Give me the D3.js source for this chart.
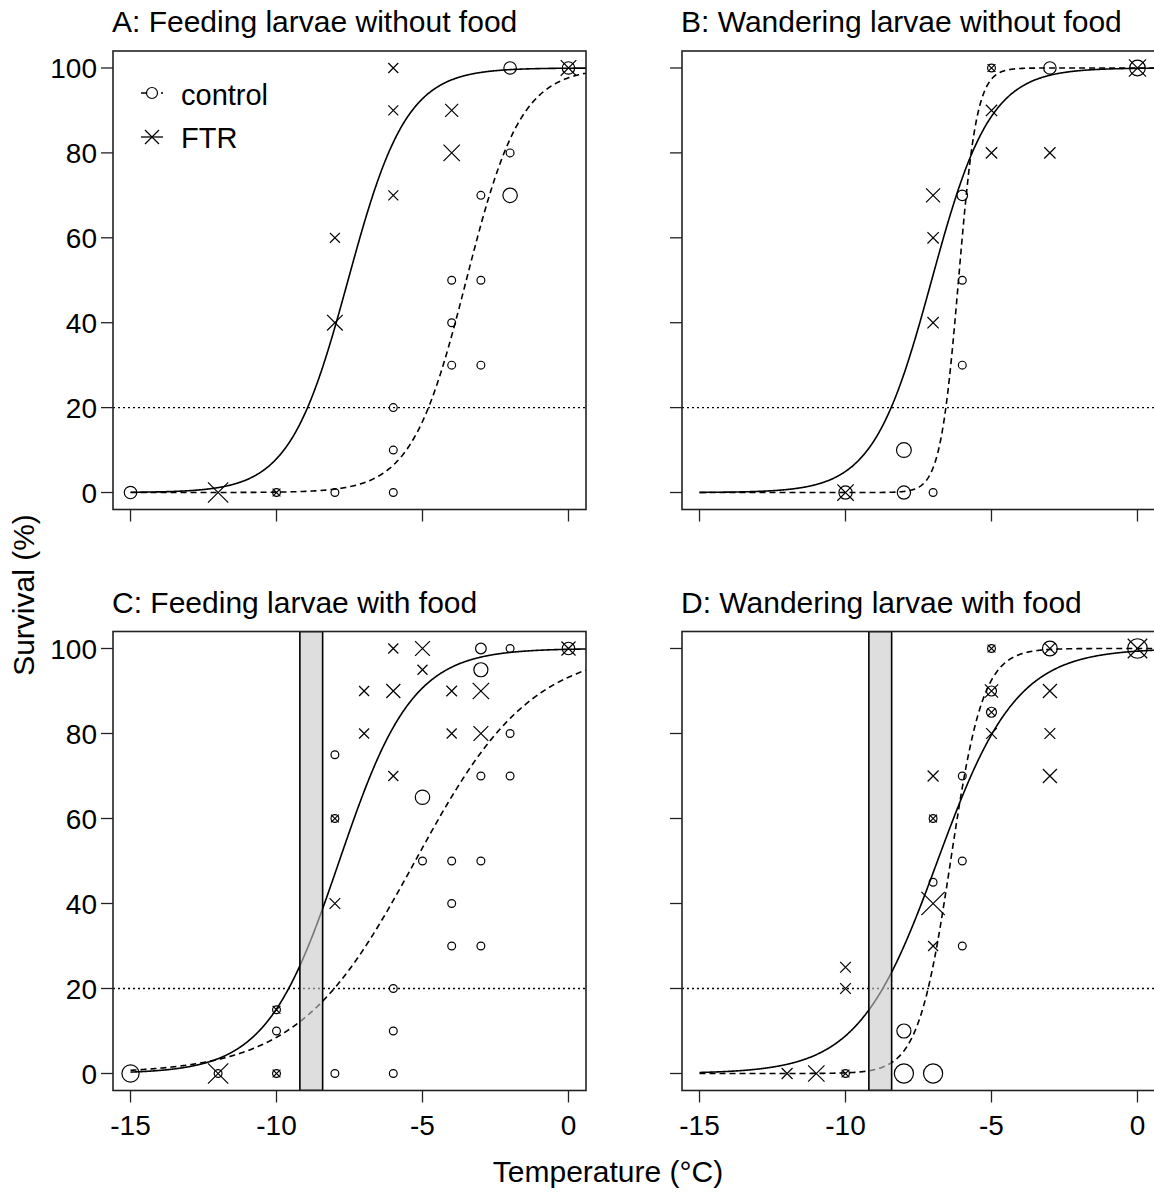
<!DOCTYPE html>
<html>
<head>
<meta charset="utf-8">
<script src="https://cdn.jsdelivr.net/npm/d3@7/dist/d3.min.js"></script>
<style>
body { margin: 0; background: white; }
text { font-family: "Liberation Sans", Arial, sans-serif; fill: black; }
</style>
</head>
<body>
<div id="chart"></div>
<script>
// Panel titles
var titles = ["A: Feeding larvae without food", "B: Wandering larvae without food",
              "C: Feeding larvae with food", "D: Wandering larvae with food"];

var xTicks = [-15, -10, -5, 0];
var yTicks = [0, 20, 40, 60, 80, 100];

// Observed survival: [temperature, survival %, symbol size]
var controlA = [[-15,0,1.6],[-10,0,1],[-8,0,1],[-6,0,1],[-6,10,1],[-6,20,1],[-4,30,1],[-3,30,1],
                [-4,40,1],[-4,50,1],[-3,50,1],[-3,70,1],[-2,70,1.85],[-2,80,1],[-2,100,1.6],[0,100,1.6]];
var ftrA = [[-12,0,2.6],[-10,0,1],[-8,40,2],[-8,60,1.28],[-6,70,1.28],[-6,90,1.28],[-6,100,1.28],
            [-4,90,1.67],[-4,80,2.1],[0,100,2]];

var controlB = [[-10,0,1.7],[-8,0,1.7],[-8,10,1.9],[-7,0,1],[-6,30,1],[-6,50,1],[-6,70,1.35],
                [-5,100,1],[-3,100,1.6],[0,100,2]];
var ftrB = [[-10,0,2.1],[-7,70,1.8],[-7,60,1.45],[-7,40,1.45],[-5,80,1.45],[-5,90,1.45],
            [-5,100,1],[-3,80,1.45],[0,100,2.2]];

var controlC = [[-15,0,2.2],[-12,0,1],[-10,0,1],[-10,10,1],[-10,15,1],[-8,0,1],[-8,60,1],[-8,75,1],
                [-6,0,1],[-6,10,1],[-6,20,1],[-5,65,1.85],[-5,50,1],[-4,50,1],[-3,50,1],[-4,40,1],
                [-4,30,1],[-3,30,1],[-3,70,1],[-2,70,1],[-2,80,1],[-3,95,1.8],[-3,100,1.37],
                [-2,100,1],[0,100,1.6]];
var ftrC = [[-12,0,2.6],[-10,0,1],[-10,15,1],[-8,60,1],[-8,40,1.37],[-7,80,1.28],[-7,90,1.28],
            [-6,90,1.8],[-6,100,1.28],[-6,70,1.28],[-5,100,1.9],[-5,95,1.28],[-4,90,1.35],
            [-4,80,1.28],[-3,90,2.1],[-3,80,1.9],[0,100,1.8]];

var controlD = [[-10,0,1],[-8,0,2.45],[-7,0,2.45],[-8,10,1.8],[-7,60,1],[-7,45,1],[-6,30,1],
                [-6,50,1],[-6,70,1],[-5,85,1.28],[-5,90,1.28],[-5,100,1],[-3,100,1.9],[0,100,2.5]];
var ftrD = [[-12,0,1.4],[-11,0,2.1],[-10,0,1],[-10,20,1.37],[-10,25,1.37],[-7,30,1.28],[-7,40,3],
            [-7,60,1],[-7,70,1.4],[-5,80,1.37],[-5,90,1.7],[-5,85,1],[-5,100,1],[-3,70,1.8],
            [-3,80,1.37],[-3,90,1.8],[-3,100,1.3],[0,100,2.5]];

var controlData = [controlA, controlB, controlC, controlD];
var ftrData = [ftrA, ftrB, ftrC, ftrD];

// Fitted logistic curves: temperature at 50% survival and slope
var ftrMid = [-7.55, -7.05, -7.85, -6.85];
var ftrSlope = [1.0, 1.0, 0.8, 0.74];
var controlMid = [-3.5, -6.13, -5.25, -6.4];
var controlSlope = [1.07, 3.2, 0.5, 1.8];

// Grey temperature band (panels with food)
var band = [-9.2, -8.42];
var hasBand = [false, false, true, true];
var cutoff = 20;

var W = 1154, H = 1193;
var unit = 3.9; // symbol radius at size 1

// Plot boxes
var boxes = [
    {x0: 113, x1: 586, y0: 51, y1: 509.5},
    {x0: 682, x1: 1155, y0: 51, y1: 509.5},
    {x0: 113, x1: 586, y0: 631.5, y1: 1090.5},
    {x0: 682, x1: 1155, y0: 631.5, y1: 1090.5}
];

var svg = d3.select("#chart").append("svg")
    .attr("width", W)
    .attr("height", H);

function logistic(x, mid, slope) {
    return 100 / (1 + Math.exp(-slope * (x - mid)));
}

function drawPanel(i) {
    var b = boxes[i];
    var x = d3.scaleLinear().domain([-15.6, 0.6]).range([b.x0, b.x1]);
    var y = d3.scaleLinear().domain([-4, 104]).range([b.y1, b.y0]);
    var g = svg.append("g");

    g.append("clipPath").attr("id", "clip" + i)
        .append("rect")
        .attr("x", b.x0).attr("y", b.y0)
        .attr("width", b.x1 - b.x0).attr("height", b.y1 - b.y0);

    var plot = g.append("g").attr("clip-path", "url(#clip" + i + ")");

    // 20% reference line
    plot.append("line")
        .attr("x1", b.x0).attr("x2", b.x1)
        .attr("y1", y(cutoff)).attr("y2", y(cutoff))
        .attr("stroke", "black").attr("stroke-width", 1.3)
        .attr("stroke-dasharray", "2,3");

    // Fitted curves
    var temps = d3.range(-15, 0.62, 0.02);
    var line = d3.line().x(d => x(d[0])).y(d => y(d[1]));

    plot.append("path")
        .datum(temps.map(t => [t, logistic(t, controlMid[i], controlSlope[i])]))
        .attr("d", line)
        .attr("fill", "none").attr("stroke", "black").attr("stroke-width", 1.6)
        .attr("stroke-dasharray", "6,4");

    plot.append("path")
        .datum(temps.map(t => [t, logistic(t, ftrMid[i], ftrSlope[i])]))
        .attr("d", line)
        .attr("fill", "none").attr("stroke", "black").attr("stroke-width", 1.6);

    // Grey band over the curves
    if (hasBand[i]) {
        plot.append("rect")
            .attr("x", x(band[0])).attr("y", b.y0)
            .attr("width", x(band[1]) - x(band[0]))
            .attr("height", b.y1 - b.y0)
            .attr("fill", "#c8c8c8").attr("fill-opacity", 0.6)
            .attr("stroke", "black").attr("stroke-width", 1.6);
    }

    // Control: open circles
    plot.selectAll("circle.ctrl")
        .data(controlData[i])
        .enter()
        .append("circle")
        .attr("class", "ctrl")
        .attr("cx", d => x(d[0]))
        .attr("cy", d => y(d[1]))
        .attr("r", d => unit * d[2])
        .attr("fill", "none")
        .attr("stroke", "black")
        .attr("stroke-width", 1.2);

    // FTR: crosses
    plot.selectAll("path.ftr")
        .data(ftrData[i])
        .enter()
        .append("path")
        .attr("class", "ftr")
        .attr("d", d => {
            var cx = x(d[0]), cy = y(d[1]), h = unit * d[2];
            return `M${cx - h},${cy - h}L${cx + h},${cy + h}M${cx - h},${cy + h}L${cx + h},${cy - h}`;
        })
        .attr("fill", "none")
        .attr("stroke", "black")
        .attr("stroke-width", 1.2);

    // Box
    g.append("rect")
        .attr("x", b.x0).attr("y", b.y0)
        .attr("width", b.x1 - b.x0).attr("height", b.y1 - b.y0)
        .attr("fill", "none").attr("stroke", "#222").attr("stroke-width", 1.6);

    // Ticks
    g.selectAll("line.xt")
        .data(xTicks)
        .enter()
        .append("line")
        .attr("x1", d => x(d)).attr("x2", d => x(d))
        .attr("y1", b.y1).attr("y2", b.y1 + 12)
        .attr("stroke", "#222").attr("stroke-width", 1.3);

    g.selectAll("line.yt")
        .data(yTicks)
        .enter()
        .append("line")
        .attr("x1", b.x0 - 12).attr("x2", b.x0)
        .attr("y1", d => y(d)).attr("y2", d => y(d))
        .attr("stroke", "#222").attr("stroke-width", 1.3);

    // Tick labels on the left column and bottom row only
    if (i % 2 == 0) {
        g.selectAll("text.yl")
            .data(yTicks)
            .enter()
            .append("text")
            .attr("x", b.x0 - 16)
            .attr("y", d => y(d) + 10)
            .attr("text-anchor", "end")
            .attr("font-size", "28px")
            .text(d => d);
    }
    if (i >= 2) {
        g.selectAll("text.xl")
            .data(xTicks)
            .enter()
            .append("text")
            .attr("x", d => x(d))
            .attr("y", b.y1 + 44)
            .attr("text-anchor", "middle")
            .attr("font-size", "28px")
            .text(d => d);
    }

    // Title
    g.append("text")
        .attr("x", b.x0 - 1)
        .attr("y", b.y0 - 19)
        .attr("font-size", "30px")
        .text(titles[i]);
}

for (var i = 0; i < 4; i++) drawPanel(i);

// Legend in panel A
var legend = svg.append("g");
legend.append("line")
    .attr("x1", 141).attr("x2", 163).attr("y1", 93).attr("y2", 93)
    .attr("stroke", "black").attr("stroke-width", 1.3).attr("stroke-dasharray", "6,4");
legend.append("circle")
    .attr("cx", 152).attr("cy", 93).attr("r", 5.5)
    .attr("fill", "white").attr("stroke", "black").attr("stroke-width", 1.2);
legend.append("line")
    .attr("x1", 141).attr("x2", 163).attr("y1", 137).attr("y2", 137)
    .attr("stroke", "black").attr("stroke-width", 1.3);
legend.append("path")
    .attr("d", "M145,130L159,144M145,144L159,130")
    .attr("fill", "none").attr("stroke", "black").attr("stroke-width", 1.2);
legend.append("text").attr("x", 181).attr("y", 105).attr("font-size", "29px").text("control");
legend.append("text").attr("x", 181).attr("y", 148).attr("font-size", "29px").text("FTR");

// Shared axis titles
svg.append("text")
    .attr("transform", "translate(34,595) rotate(-90)")
    .attr("text-anchor", "middle")
    .attr("font-size", "30px")
    .text("Survival (%)");

svg.append("text")
    .attr("x", 608)
    .attr("y", 1182)
    .attr("text-anchor", "middle")
    .attr("font-size", "30px")
    .text("Temperature (°C)");
</script>
</body>
</html>
